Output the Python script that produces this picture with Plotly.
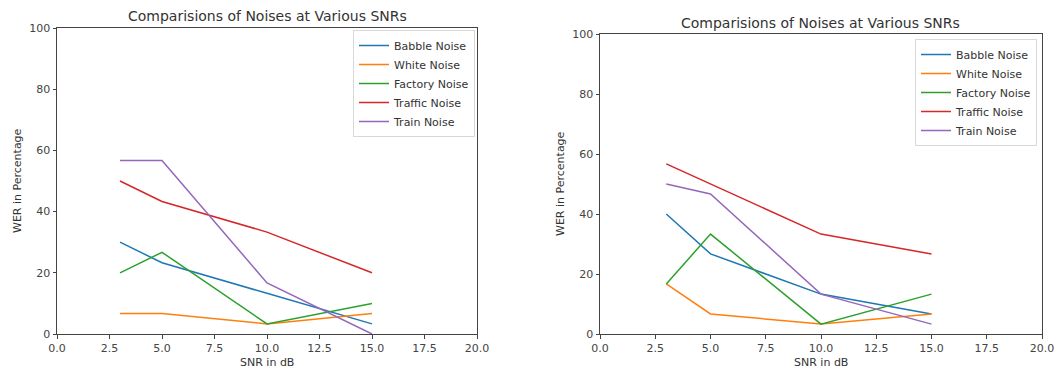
import plotly.graph_objects as go

snr = [3, 5, 10, 15]
names = ["Babble Noise", "White Noise", "Factory Noise", "Traffic Noise", "Train Noise"]
colors = ["#1f77b4", "#ff7f0e", "#2ca02c", "#d62728", "#9467bd"]

left_babble = [30.0, 23.3, 13.3, 3.3]
left_white = [6.7, 6.7, 3.3, 6.7]
left_factory = [20.0, 26.7, 3.3, 10.0]
left_traffic = [50.0, 43.3, 33.3, 20.0]
left_train = [56.7, 56.7, 16.7, 0.0]

right_babble = [40.0, 26.7, 13.3, 6.7]
right_white = [16.7, 6.7, 3.3, 6.7]
right_factory = [16.7, 33.3, 3.3, 13.3]
right_traffic = [56.7, 50.0, 33.3, 26.7]
right_train = [50.0, 46.7, 13.3, 3.3]

xticks = [0, 2.5, 5, 7.5, 10, 12.5, 15, 17.5, 20]
xticktext = ["0.0", "2.5", "5.0", "7.5", "10.0", "12.5", "15.0", "17.5", "20.0"]
yticks = [0, 20, 40, 60, 80, 100]

title_text = "Comparisions of Noises at Various SNRs"
xlabel = "SNR in dB"
ylabel = "WER in Percentage"

left = [left_babble, left_white, left_factory, left_traffic, left_train]
right = [right_babble, right_white, right_factory, right_traffic, right_train]

fig = go.Figure()
for i, (n, c) in enumerate(zip(names, colors)):
    fig.add_trace(go.Scatter(x=snr, y=left[i], mode="lines", name=n,
                             line=dict(color=c, width=1.5), xaxis="x", yaxis="y",
                             legend="legend"))
for i, (n, c) in enumerate(zip(names, colors)):
    fig.add_trace(go.Scatter(x=snr, y=right[i], mode="lines", name=n,
                             line=dict(color=c, width=1.5), xaxis="x2", yaxis="y2",
                             legend="legend2"))

W, H = 1057, 371
font = "DejaVu Sans, sans-serif"
tickfont = dict(family=font, size=11, color="#444")

def xax(domain, anchor):
    return dict(domain=domain, anchor=anchor, range=[0, 20], tickvals=xticks, ticktext=xticktext,
                showline=True, mirror=True, linecolor="#444", linewidth=1, ticks="outside",
                ticklen=3.5, tickcolor="#444", showgrid=False, zeroline=False, tickfont=tickfont,
                automargin=False)

def yax(domain, anchor):
    return dict(domain=domain, anchor=anchor, range=[0, 100], tickvals=yticks,
                showline=True, mirror=True, linecolor="#444", linewidth=1, ticks="outside",
                ticklen=3.5, tickcolor="#444", showgrid=False, zeroline=False, tickfont=tickfont,
                automargin=False)

lx0, lx1 = 57 / W, 477 / W
rx0, rx1 = 600 / W, 1042 / W
ly0, ly1 = 1 - 334 / H, 1 - 28 / H
ry0, ry1 = 1 - 334 / H, 1 - 34 / H

legfont = dict(family=font, size=11, color="#333")
leg_common = dict(xanchor="right", yanchor="top", font=legfont,
                  bordercolor="#d8d8d8", borderwidth=1, bgcolor="rgba(255,255,255,0.8)",
                  tracegroupgap=0, itemwidth=30)

def ann(text, x, y, size, angle=0):
    return dict(text=text, x=x, y=y, xref="paper", yref="paper", xanchor="center",
                yanchor="middle", showarrow=False, textangle=angle,
                font=dict(family=font, size=size, color="#333"))

fig.update_layout(
    width=W, height=H, margin=dict(l=0, r=0, t=0, b=0, autoexpand=False),
    paper_bgcolor="white", plot_bgcolor="white",
    xaxis=xax([lx0, lx1], "y"), yaxis=yax([ly0, ly1], "x"),
    xaxis2=xax([rx0, rx1], "y2"), yaxis2=yax([ry0, ry1], "x2"),
    legend=dict(x=475 / W, y=1 - 30 / H, **leg_common),
    legend2=dict(x=1037 / W, y=1 - 39 / H, **leg_common),
    annotations=[
        ann(title_text, (lx0 + lx1) / 2, 1 - 16 / H, 14),
        ann(title_text, (rx0 + rx1) / 2, 1 - 23 / H, 14),
        ann(xlabel, (lx0 + lx1) / 2, 1 - 362 / H, 11),
        ann(xlabel, (rx0 + rx1) / 2, 1 - 362 / H, 11),
        ann(ylabel, 18 / W, (ly0 + ly1) / 2, 11, -90),
        ann(ylabel, 560 / W, (ry0 + ry1) / 2, 11, -90),
    ],
)

fig.write_html(
    "out.html",
    config={"displayModeBar": False},
    post_script="document.documentElement.style.margin='0';document.body.style.margin='0';"
                "document.body.style.overflow='hidden';",
)
